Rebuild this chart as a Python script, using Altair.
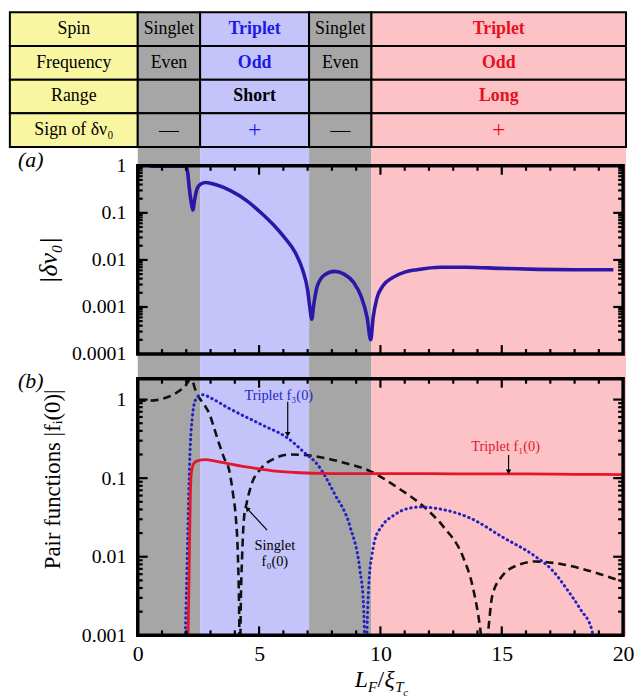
import altair as alt
import pandas as pd

# ---------------- data ----------------
# panel (a): |delta nu_0| versus L_F / xi_Tc
a_x = [0.5, 1.0, 1.5, 1.9, 2.0, 2.06, 2.12, 2.2, 2.27, 2.35, 2.45, 2.6, 2.8, 3.2, 3.8,
       4.5, 5.1, 5.6, 6.0, 6.5, 6.8, 7.0, 7.1, 7.17, 7.25, 7.4, 7.7, 8.1, 8.5, 8.9,
       9.2, 9.45, 9.6, 9.7, 9.85, 10.1, 10.5, 11.0, 11.5, 12.5, 13.5, 15.0, 16.5, 18.0, 19.6]
a_v = [0.98, 0.98, 0.98, 0.98, 0.95, 0.7, 0.35, 0.17, 0.115, 0.2, 0.33, 0.41, 0.44, 0.40, 0.30,
       0.18, 0.098, 0.055, 0.032, 0.014, 0.006, 0.0023, 0.0009, 0.00055, 0.0011, 0.0028, 0.0048, 0.0057, 0.005, 0.0033,
       0.0017, 0.0006, 0.0002, 0.0006, 0.0015, 0.0028, 0.0042, 0.0055, 0.0062, 0.007, 0.007, 0.0066, 0.0063, 0.0062, 0.0062]

# panel (b): singlet f0(0)
f0_x = [0, 0.5, 1.0, 1.5, 1.8, 2.0, 2.15, 2.25, 2.35, 2.5, 2.75, 2.96, 3.15, 3.36, 3.56,
        3.77, 3.92, 4.05, 4.12, 4.17, 4.21, 4.25, 4.3, 4.37, 4.5, 4.7, 5.1, 5.67, 6.3, 7.3,
        8.5, 9.55, 10.7, 11.8, 12.6, 13.4, 13.8, 14.1, 14.3, 14.45, 14.6, 15.0, 15.7, 16.4, 17.2,
        18.4, 19.75, 20.0]
f0_v = [0.97, 0.97, 1.02, 1.17, 1.35, 1.55, 1.8, 1.75, 1.4, 1.1, 0.85, 0.65, 0.43, 0.27, 0.18,
        0.125, 0.065, 0.029, 0.012, 0.003, 0.0004, 0.003, 0.01, 0.029, 0.05, 0.085, 0.135, 0.18, 0.2, 0.19,
        0.157, 0.124, 0.076, 0.043, 0.024, 0.01, 0.0042, 0.0013, 0.0004, 0.0012, 0.0031, 0.0056, 0.0079, 0.0087, 0.0083,
        0.0069, 0.0051, 0.0048]
# triplet f3(0)
f3_x = [1.94, 2.0, 2.06, 2.1, 2.15, 2.25, 2.35, 2.5, 2.7, 3.0, 3.77, 5.1, 6.2, 6.88, 7.4,
        8.1, 8.75, 9.15, 9.3, 9.4, 9.47, 9.55, 9.64, 9.76, 10.04, 10.57, 11.0, 11.66, 12.35, 13.7,
        15.0, 16.4, 17.05, 17.7, 18.26, 18.7, 18.9]
f3_v = [0.0006, 0.003, 0.018, 0.06, 0.2, 0.6, 0.94, 1.1, 1.15, 1.05, 0.77, 0.48, 0.32, 0.21, 0.15,
        0.064, 0.024, 0.0069, 0.0025, 0.0004, 0.002, 0.006, 0.01, 0.016, 0.024, 0.034, 0.04, 0.043, 0.041, 0.031,
        0.018, 0.01, 0.0069, 0.0038, 0.0021, 0.0012, 0.0006]
# triplet f1(0)
f1_x = [2.06, 2.1, 2.13, 2.16, 2.2, 2.3, 2.45, 2.8, 3.2, 3.77, 4.4, 5.1, 5.8, 6.48, 7.5,
        8.5, 10, 12, 14, 16, 18, 20]
f1_v = [0.0006, 0.003, 0.012, 0.045, 0.11, 0.152, 0.166, 0.172, 0.165, 0.152, 0.14, 0.13, 0.122, 0.118, 0.115,
        0.114, 0.114, 0.114, 0.113, 0.113, 0.112, 0.111]

# shaded regimes
region_x0 = [0, 2.57, 7.06, 9.63]
region_x1 = [2.57, 7.06, 9.63, 20.12]
region_fill = ["#a6a6a6", "#c4c4fb", "#a6a6a6", "#fcc2c6"]

# table
table_x0 = [-5.27, 0, 2.57, 7.06, 9.63]
table_x1 = [0, 2.57, 7.06, 9.63, 20.12]
table_fill = ["#f8f6a0", "#a6a6a6", "#c4c4fb", "#a6a6a6", "#fcc2c6"]
table_rows = [
    ["Spin", "Singlet", "Triplet", "Singlet", "Triplet"],
    ["Frequency", "Even", "Odd", "Even", "Odd"],
    ["Range", "", "Short", "", "Long"],
    ["Sign of δν₀", "—", "+", "—", "+"],
]
BLUE_T, RED_T = "#1b1be0", "#e8101e"
table_colors = [
    ["black", "black", BLUE_T, "black", RED_T],
    ["black", "black", BLUE_T, "black", RED_T],
    ["black", "black", "black", "black", RED_T],
    ["black", "black", BLUE_T, "black", RED_T],
]
table_weights = [
    ["normal", "normal", "bold", "normal", "bold"],
    ["normal", "normal", "bold", "normal", "bold"],
    ["normal", "normal", "bold", "normal", "bold"],
    ["normal", "normal", "normal", "normal", "normal"],
]
table_sizes = [
    [18, 18, 18, 18, 18],
    [18, 18, 18, 18, 18],
    [18, 18, 18, 18, 18],
    [18, 20, 24, 20, 24],
]

# annotations (x, value)
ann_text = ["Triplet f₃(0)", "Triplet f₁(0)", "Singlet", "f₀(0)"]
ann_x = [5.81, 15.16, 5.65, 5.65]
ann_v = [1.12, 0.25, 0.0138, 0.0086]
ann_color = ["#2525c8", "#e3162e", "black", "black"]
arrow_x = [6.18, 15.28, 5.33]
arrow_v = [0.94, 0.197, 0.0218]
arrow_x2 = [6.18, 15.28, 4.51]
arrow_v2 = [0.36, 0.12, 0.041]
arrow_shape = ["triangle-down", "triangle-down", "triangle-up"]
arrow_angle = [0, 0, 318]

x_major = [5, 10, 15]
x_minor = [1, 2, 3, 4, 6, 7, 8, 9, 11, 12, 13, 14, 16, 17, 18, 19]
ya_major = [0.001, 0.01, 0.1]
ya_minor = [m * d for d in [1e-4, 1e-3, 1e-2, 1e-1] for m in range(2, 10)]
yb_major = [0.01, 0.1, 1]
yb_minor = [m * d for d in [1e-3, 1e-2, 1e-1] for m in range(2, 10)]

# ---------------- layout ----------------
W = 490
H_T, H_A, H_B = 136, 221, 271
A_TOP, A_BOT = 18, 208
B_TOP, B_BOT = 12, 271
FONT = "Liberation Serif"

xs = alt.Scale(domain=[0, 20], nice=False, zero=False)
ya = alt.Scale(type="log", domain=[1e-4, 1], range=[A_BOT, A_TOP], nice=False)
yb = alt.Scale(type="log", domain=[1e-3, 1.84], range=[B_BOT, B_TOP], nice=False)
yt = alt.Scale(domain=[0, 4], range=[0, H_T], nice=False, zero=False)

yaxis_a = alt.Axis(values=[1e-4, 1e-3, 1e-2, 1e-1, 1], format="~g", domain=False, ticks=False,
                   grid=False, labelFont=FONT, labelFontSize=20, labelColor="black", labelPadding=12,
                   title="|δν₀|", titleFont=FONT, titleFontSize=26, titleFontStyle="italic",
                   titleFontWeight="normal", titleColor="black", titleAngle=270, titleX=-90,
                   titleY=113, titleAlign="center", titleBaseline="middle")
yaxis_b = alt.Axis(values=[1e-3, 1e-2, 1e-1, 1], format="~g", domain=False, ticks=False,
                   grid=False, labelFont=FONT, labelFontSize=20, labelColor="black", labelPadding=12,
                   title="Pair functions |fᵢ(0)|", titleFont=FONT, titleFontSize=23,
                   titleFontWeight="normal", titleColor="black", titleAngle=270, titleX=-86,
                   titleY=113, titleAlign="center", titleBaseline="middle")
xaxis_b = alt.Axis(values=[0, 5, 10, 15, 20], format="d", domain=False, ticks=False, grid=False,
                   labelFont=FONT, labelFontSize=22, labelColor="black", labelPadding=8,
                   labelFlush=False, title=None)

shade_df = pd.DataFrame({"x0": region_x0, "x1": region_x1, "fill": region_fill})
one_df = pd.DataFrame({"d": [0]})


def XQ(field, axis):
    return alt.X(field, type="quantitative", scale=xs, axis=axis)


def YQ(field, scale, axis):
    return alt.Y(field, type="quantitative", scale=scale, axis=axis)


def panel(H, top, bot, yscale, yaxis, xaxis, ymaj, ymin, lines, extra):
    shade = alt.Chart(shade_df).mark_rect().encode(
        x=XQ("x0", xaxis), x2="x1", y=alt.value(0), y2=alt.value(H),
        color=alt.Color("fill:N", scale=None))
    frame = alt.Chart(one_df).mark_rect(fillOpacity=0, stroke="black", strokeWidth=3.5).encode(
        x=alt.value(0), x2=alt.value(W), y=alt.value(top), y2=alt.value(bot))
    ticks = []
    for vals, ln in ((x_major, 9), (x_minor, 5)):
        d = pd.DataFrame({"t": vals})
        for y0, y1 in ((bot, bot - ln), (top, top + ln)):
            ticks.append(alt.Chart(d).mark_rule(color="black", strokeWidth=2.2).encode(
                x=XQ("t", xaxis), y=alt.value(y0), y2=alt.value(y1)))
    for vals, ln in ((ymaj, 10), (ymin, 5)):
        d = pd.DataFrame({"t": vals})
        for x0, x1 in ((0, ln), (W, W - ln)):
            ticks.append(alt.Chart(d).mark_rule(color="black", strokeWidth=2.2).encode(
                y=YQ("t", yscale, yaxis), x=alt.value(x0), x2=alt.value(x1)))
    return alt.layer(shade, *lines, frame, *ticks, *extra).properties(width=W, height=H)


# ---- table ----
cells = []
for r, row in enumerate(table_rows):
    for c, txt in enumerate(row):
        cells.append({"x0": table_x0[c], "x1": table_x1[c], "xc": (table_x0[c] + table_x1[c]) / 2,
                      "r0": r, "r1": r + 1, "rc": r + 0.5, "fill": table_fill[c], "txt": txt,
                      "col": table_colors[r][c], "w": table_weights[r][c],
                      "s": table_sizes[r][c]})
cells_df = pd.DataFrame(cells)

t_rect = alt.Chart(cells_df).mark_rect(stroke="black", strokeWidth=2).encode(
    x=alt.X("x0:Q", scale=xs, axis=None), x2="x1",
    y=alt.Y("r0:Q", scale=yt, axis=None), y2="r1",
    color=alt.Color("fill:N", scale=None))
t_text_n = alt.Chart(cells_df).transform_filter(alt.datum.w == "normal").mark_text(
    font=FONT, baseline="middle", align="center").encode(
    x=alt.X("xc:Q", scale=xs, axis=None), y=alt.Y("rc:Q", scale=yt, axis=None),
    text="txt:N", color=alt.Color("col:N", scale=None), size=alt.Size("s:Q", scale=None))
t_text_b = alt.Chart(cells_df).transform_filter(alt.datum.w == "bold").mark_text(
    font=FONT, fontWeight="bold", baseline="middle", align="center").encode(
    x=alt.X("xc:Q", scale=xs, axis=None), y=alt.Y("rc:Q", scale=yt, axis=None),
    text="txt:N", color=alt.Color("col:N", scale=None), size=alt.Size("s:Q", scale=None))
table = alt.layer(t_rect, t_text_n, t_text_b).properties(width=W, height=H_T)

# ---- panel (a) ----
a_df = pd.DataFrame({"x": a_x, "v": a_v})
line_a = alt.Chart(a_df).mark_line(color="#2b18a8", strokeWidth=3.6, clip=True,
                                   interpolate="monotone").encode(
    x=XQ("x", None), y=YQ("v", ya, yaxis_a))
lab_a = alt.Chart(pd.DataFrame({"t": ["(a)"]})).mark_text(
    font=FONT, fontSize=22, fontStyle="italic", align="center", baseline="middle").encode(
    text="t:N", x=alt.value(-108), y=alt.value(12))
panel_a = panel(H_A, A_TOP, A_BOT, ya, yaxis_a, None, ya_major, ya_minor, [line_a], [lab_a])

# ---- panel (b) ----
f0_df = pd.DataFrame({"x": f0_x, "v": f0_v})
f3_df = pd.DataFrame({"x": f3_x, "v": f3_v})
f1_df = pd.DataFrame({"x": f1_x, "v": f1_v})
l_f0 = alt.Chart(f0_df).mark_line(color="#111111", strokeWidth=2.6, strokeDash=[8, 5], clip=True,
                                  interpolate="monotone").encode(
    x=XQ("x", xaxis_b), y=YQ("v", yb, yaxis_b))
l_f3 = alt.Chart(f3_df).mark_line(color="#2222c4", strokeWidth=3, strokeDash=[0.5, 4.5],
                                  strokeCap="round", clip=True, interpolate="monotone").encode(
    x=XQ("x", xaxis_b), y=YQ("v", yb, yaxis_b))
l_f1 = alt.Chart(f1_df).mark_line(color="#e3162e", strokeWidth=2.8, clip=True,
                                  interpolate="monotone").encode(
    x=XQ("x", xaxis_b), y=YQ("v", yb, yaxis_b))

ann_df = pd.DataFrame({"x": ann_x, "v": ann_v, "t": ann_text, "c": ann_color})
ann = alt.Chart(ann_df).mark_text(font=FONT, fontSize=14.5, align="center", baseline="middle").encode(
    x=XQ("x", xaxis_b), y=YQ("v", yb, yaxis_b), text="t:N", color=alt.Color("c:N", scale=None))
arr_df = pd.DataFrame({"x": arrow_x, "v": arrow_v, "x2": arrow_x2, "v2": arrow_v2,
                       "shp": arrow_shape, "ang": arrow_angle})
arr = alt.Chart(arr_df).mark_rule(color="black", strokeWidth=1.2).encode(
    x=XQ("x", xaxis_b), y=YQ("v", yb, yaxis_b), x2="x2", y2="v2")
head = alt.Chart(arr_df).mark_point(filled=True, color="black", opacity=1, size=30).encode(
    x=XQ("x2", xaxis_b), y=YQ("v2", yb, yaxis_b),
    shape=alt.Shape("shp:N", scale=None), angle=alt.Angle("ang:Q", scale=None))
lab_b = alt.Chart(pd.DataFrame({"t": ["(b)"]})).mark_text(
    font=FONT, fontSize=22, fontStyle="italic", align="center", baseline="middle").encode(
    text="t:N", x=alt.value(-108), y=alt.value(14))

# composite x title  L_F / xi_Tc
xt_parts = ["L", "F", "/", "ξ", "T", "c"]
xt_sizes = [24, 15, 24, 24, 15, 11]
xt_style = ["italic", "italic", "normal", "italic", "italic", "italic"]
xt_dx = [0, 13.5, 23, 30, 41, 49]
xt_dy = [0, 5, 0, 0, 5, 9]
xt_layers = []
for p, s, st, dx, dy in zip(xt_parts, xt_sizes, xt_style, xt_dx, xt_dy):
    xt_layers.append(alt.Chart(pd.DataFrame({"t": [p]})).mark_text(
        font=FONT, fontSize=s, fontStyle=st, align="left", baseline="alphabetic").encode(
        text="t:N", x=alt.value(219 + dx), y=alt.value(323 + dy)))

panel_b = panel(H_B, B_TOP, B_BOT, yb, yaxis_b, xaxis_b, yb_major, yb_minor,
                [l_f0, l_f3, l_f1], [ann, arr, head, lab_b] + xt_layers)

chart = alt.vconcat(table, panel_a, panel_b, spacing=0).resolve_scale(
    x="independent", y="independent").properties(padding=0).configure_view(stroke=None)

chart.save("out.html", embed_options={"renderer": "svg", "actions": False})
